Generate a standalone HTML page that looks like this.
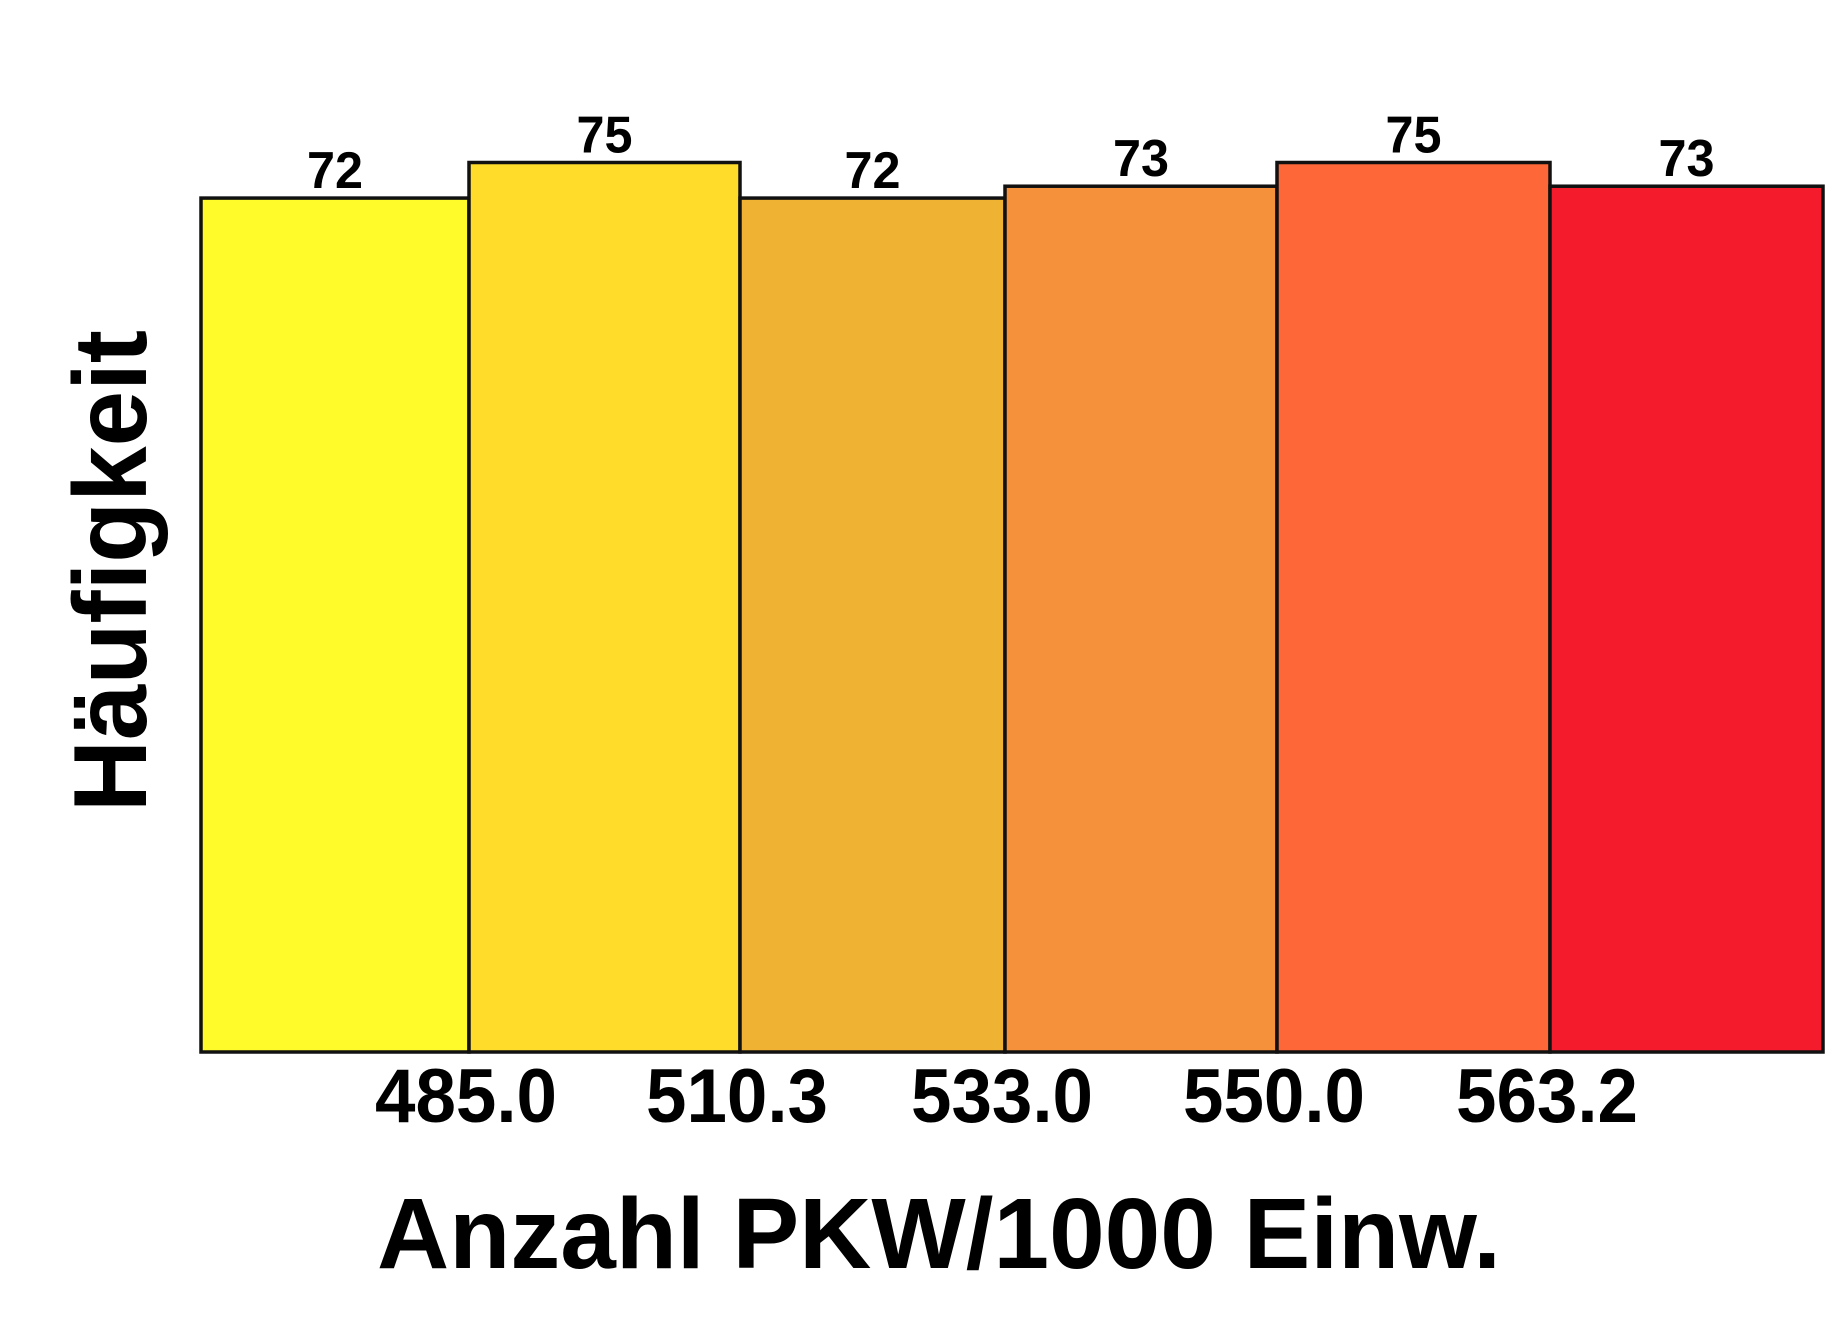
<!DOCTYPE html>
<html><head><meta charset="utf-8"><style>body{margin:0;background:#fff}svg{display:block}</style></head>
<body>
<svg width="1837" height="1329" viewBox="0 0 1837 1329" xmlns="http://www.w3.org/2000/svg" font-family="Liberation Sans, sans-serif" font-weight="bold">
<g id="bars"></g>
<g id="vals"></g>
<g id="ticks"></g>
<text x="939" y="1268" font-size="100" text-anchor="middle" textLength="1124" lengthAdjust="spacingAndGlyphs">Anzahl PKW/1000 Einw.</text>
<text transform="translate(146,571) rotate(-90)" font-size="104" text-anchor="middle" textLength="482" lengthAdjust="spacingAndGlyphs">Häufigkeit</text>
</svg>
<script>
const counts = [72, 75, 72, 73, 75, 73];
const boundaryLabels = ["485.0", "510.3", "533.0", "550.0", "563.2"];
const colors = ["#fffb2a", "#ffdc2a", "#efb232", "#f6913b", "#fe6839", "#f41c2c"];
const edgesPx = [201, 469, 740, 1005, 1277, 1550, 1823];
const NS = "http://www.w3.org/2000/svg";
const baseY = 1052, unit = 11.86;
function yPos(v){ return baseY - v*unit; }
const bars = document.getElementById('bars'), vals = document.getElementById('vals'), ticks = document.getElementById('ticks');
counts.forEach((c,i)=>{
  const r = document.createElementNS(NS,'rect');
  r.setAttribute('x', edgesPx[i]); r.setAttribute('width', edgesPx[i+1]-edgesPx[i]);
  r.setAttribute('y', yPos(c)); r.setAttribute('height', baseY - yPos(c));
  r.setAttribute('fill', colors[i]); r.setAttribute('stroke', '#111'); r.setAttribute('stroke-width', '3.5');
  
  
  bars.appendChild(r);
  const t = document.createElementNS(NS,'text');
  t.setAttribute('x', (edgesPx[i]+edgesPx[i+1])/2); t.setAttribute('y', yPos(c) - 10);
  t.setAttribute('font-size', '52'); t.setAttribute('text-anchor', 'middle');
  t.setAttribute('textLength', '56'); t.setAttribute('lengthAdjust', 'spacingAndGlyphs');
  t.textContent = c;
  
  
  vals.appendChild(t);
});
boundaryLabels.forEach((l,i)=>{
  const t = document.createElementNS(NS,'text');
  t.setAttribute('x', edgesPx[i+1] - 3); t.setAttribute('y', 1122);
  t.setAttribute('font-size', '76'); t.setAttribute('text-anchor', 'middle');
  t.setAttribute('textLength', '182'); t.setAttribute('lengthAdjust', 'spacingAndGlyphs');
  t.textContent = l;
  
  
  ticks.appendChild(t);
});
</script>
</body></html>
